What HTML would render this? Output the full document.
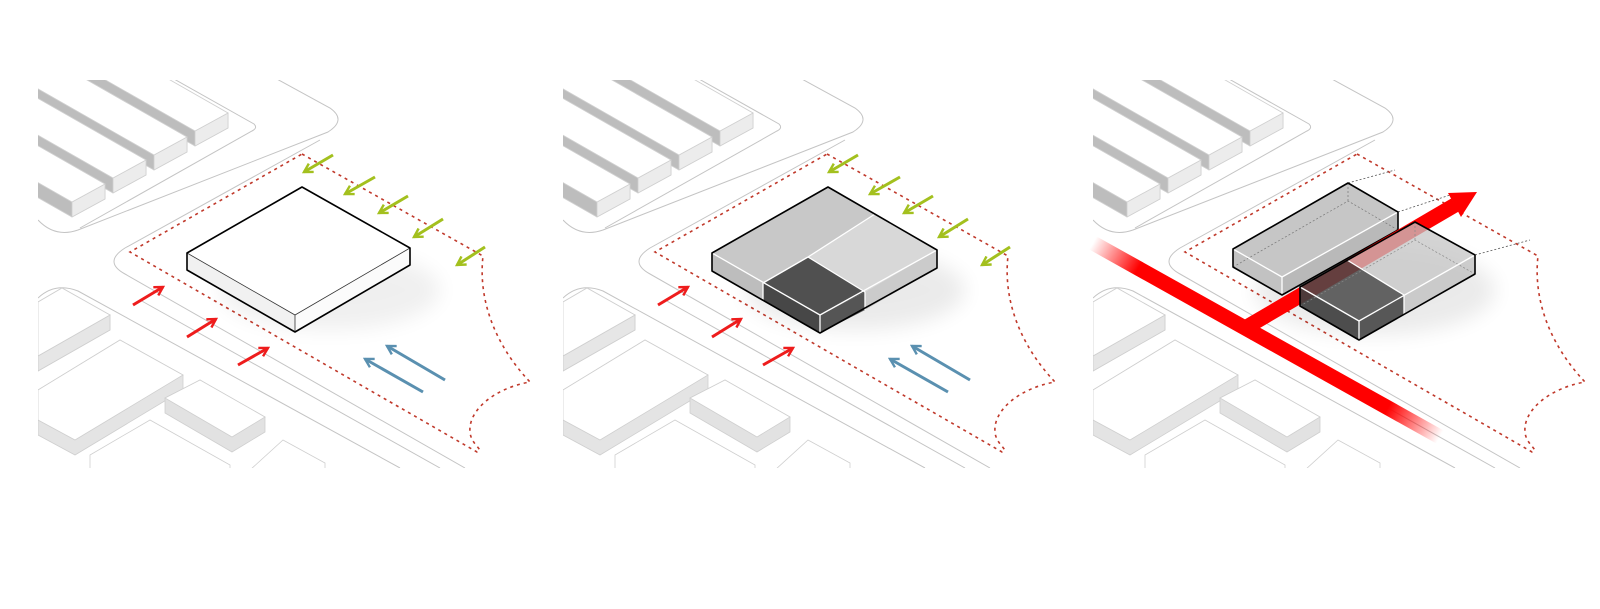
<!DOCTYPE html>
<html><head><meta charset="utf-8"><style>html,body{margin:0;padding:0;background:#fff}svg{display:block}</style></head>
<body>
<svg width="1600" height="609" viewBox="0 0 1600 609" xmlns="http://www.w3.org/2000/svg">
<defs>
<clipPath id="clp"><rect x="38" y="80" width="497" height="388"/></clipPath>
<marker id="mr" viewBox="0 0 10 10" refX="8" refY="5" markerUnits="userSpaceOnUse" markerWidth="12" markerHeight="12" orient="auto"><path d="M1,1 L8,5 L1,9" fill="none" stroke="#ee1c1c" stroke-width="2"/></marker>
<marker id="mg" viewBox="0 0 10 10" refX="8" refY="5" markerUnits="userSpaceOnUse" markerWidth="12" markerHeight="12" orient="auto"><path d="M1,1 L8,5 L1,9" fill="none" stroke="#a3c01e" stroke-width="2"/></marker>
<marker id="mb" viewBox="0 0 10 10" refX="8" refY="5" markerUnits="userSpaceOnUse" markerWidth="12" markerHeight="12" orient="auto"><path d="M1,1 L8,5 L1,9" fill="none" stroke="#5a90b0" stroke-width="2"/></marker>
<linearGradient id="rg" gradientUnits="userSpaceOnUse" x1="38" y1="243" x2="385" y2="437">
<stop offset="0" stop-color="#f00" stop-opacity="0"/><stop offset="0.13" stop-color="#f00"/><stop offset="0.85" stop-color="#f00"/><stop offset="1" stop-color="#f00" stop-opacity="0"/></linearGradient>
<filter id="bl" x="-50%" y="-50%" width="200%" height="200%"><feGaussianBlur stdDeviation="10"/></filter>
<g id="base">
<g clip-path="url(#clp)">
<rect x="38" y="80" width="497" height="388" fill="#fff"/>
<g fill="none" stroke="#c4c4c4" stroke-width="1">
<path d="M275,78 L330,108 Q347,120 328,132 L78,230 Q55,238 38,220"/>
<path d="M174,79 L254,124 Q258,128 252,131 L80,228"/>
<path d="M320,140 L125,248 Q103,262 125,274 L465,468"/>
<path d="M38,298 Q55,282 78,291 L400,468"/>
<path d="M140,300 L440,468"/>
</g>
<g stroke="#d0d0d0" stroke-width="0.8">
<polygon points="-72,-58 228,113 228,128 195,146 -105,-25" fill="#bdbdbd"/>
<polygon points="228,113 228,128 195,146 195,131" fill="#ececec"/>
<polygon points="-72,-58 228,113 195,131 -105,-40" fill="#fff"/>
<polygon points="-113,-34 187,137 187,152 154,170 -146,-1" fill="#bdbdbd"/>
<polygon points="187,137 187,152 154,170 154,155" fill="#ececec"/>
<polygon points="-113,-34 187,137 154,155 -146,-16" fill="#fff"/>
<polygon points="-154,-11 146,160 146,175 113,193 -187,22" fill="#bdbdbd"/>
<polygon points="146,160 146,175 113,193 113,178" fill="#ececec"/>
<polygon points="-154,-11 146,160 113,178 -187,7" fill="#fff"/>
<polygon points="-195,13 105,184 105,199 72,217 -228,46" fill="#bdbdbd"/>
<polygon points="105,184 105,199 72,217 72,202" fill="#ececec"/>
<polygon points="-195,13 105,184 72,202 -228,31" fill="#fff"/>
</g>
<g stroke="#cfcfcf" stroke-width="0.8">
<polygon points="38,302 62,288 110,315 110,330 38,371" fill="#9c9c9c"/>
<polygon points="110,315 110,330 38,371 38,356" fill="#e6e6e6"/>
<polygon points="38,302 62,288 110,315 38,356" fill="#fff"/>
<polygon points="38,420 38,390 120,340 183,375 183,390 75,455 38,435" fill="#e4e4e4"/>
<polygon points="38,420 38,390 120,340 183,375 75,440" fill="#fff"/>
<polygon points="165,398 200,380 265,417 265,432 232,452 165,413" fill="#e2e2e2"/>
<polygon points="165,398 200,380 265,417 232,437" fill="#fff"/>
<polygon points="90,470 90,455 150,420 230,465 230,470" fill="#fff"/>
<polygon points="250,470 283,440 325,463 325,470" fill="#fff"/>
</g>
<path d="M302,154 L483,256 C478,300 495,345 530,382 C495,388 468,410 470,432 C471,445 485,450 477,452 L130,252 Z" fill="none" stroke="#c0392b" stroke-width="1.6" stroke-dasharray="3,4"/>
</g>
</g>
<g id="arrows" stroke-width="3" fill="none">
<g stroke="#ee1c1c" marker-end="url(#mr)">
<line x1="133" y1="305" x2="163" y2="287"/><line x1="187" y1="337" x2="216" y2="319"/><line x1="238" y1="365" x2="268" y2="348"/>
</g>
<g stroke="#a3c01e" marker-end="url(#mg)">
<line x1="333" y1="155" x2="304" y2="172"/><line x1="375" y1="177" x2="345" y2="194"/><line x1="408" y1="196" x2="379" y2="213"/><line x1="443" y1="219" x2="414" y2="237"/><line x1="485" y1="247" x2="457" y2="265"/>
</g>
<g stroke="#5a90b0" marker-end="url(#mb)">
<line x1="445" y1="380" x2="387" y2="346"/><line x1="423" y1="392" x2="365" y2="359"/>
</g>
</g>
</defs>

<use href="#base"/>
<ellipse cx="330" cy="290" rx="110" ry="40" fill="#000" opacity="0.06" filter="url(#bl)"/>
<g stroke-linejoin="round">
<polygon points="187,253 295,315 295,332 187,270" fill="#f1f1f1"/>
<polygon points="295,315 410,248 410,265 295,332" fill="#fbfbfb"/>
<polygon points="302,187 410,248 295,315 187,253" fill="#fff"/>
<polyline points="187,253 295,315 410,248" fill="none" stroke="#333" stroke-width="0.8"/>
<line x1="295" y1="315" x2="295" y2="332" stroke="#333" stroke-width="0.8"/>
<polygon points="302,187 410,248 410,265 295,332 187,270 187,253" fill="none" stroke="#000" stroke-width="1.6"/>
</g>
<use href="#arrows"/>

<use href="#base" x="525"/>
<g transform="translate(525,0)">
<ellipse cx="330" cy="290" rx="110" ry="40" fill="#000" opacity="0.08" filter="url(#bl)"/>
<g stroke-linejoin="round">
<polygon points="187,253 238,283 238,301 187,271" fill="#bdbdbd"/>
<polygon points="238,283 295,315 295,333 238,301" fill="#474747"/>
<polygon points="295,315 340,292 340,310 295,333" fill="#555"/>
<polygon points="340,292 412,250 412,268 340,310" fill="#cbcbcb"/>
<polygon points="303,187 350,214 283,257 238,283 187,253" fill="#c8c8c8"/>
<polygon points="350,214 412,250 340,292 283,257" fill="#d8d8d8"/>
<polygon points="238,283 283,257 340,292 295,315" fill="#505050"/>
<g stroke="#fff" stroke-width="1.3" fill="none">
<polyline points="187,253 295,315 412,250"/><line x1="350" y1="214" x2="283" y2="257"/><line x1="283" y1="257" x2="340" y2="292"/><line x1="238" y1="283" x2="283" y2="257"/>
<line x1="238" y1="283" x2="238" y2="301"/><line x1="295" y1="315" x2="295" y2="333"/><line x1="340" y1="292" x2="340" y2="310"/>
</g>
<polygon points="303,187 412,250 412,268 295,333 187,271 187,253" fill="none" stroke="#000" stroke-width="1.6"/>
</g>
<use href="#arrows"/>
</g>

<use href="#base" x="1055"/>
<g transform="translate(1055,0)">
<ellipse cx="320" cy="290" rx="120" ry="45" fill="#000" opacity="0.08" filter="url(#bl)"/>
<g fill="none" stroke="#555" stroke-width="0.8" stroke-dasharray="2,2">
<line x1="293" y1="183" x2="340" y2="170"/><line x1="343" y1="212" x2="395" y2="195"/><line x1="420" y1="255" x2="475" y2="240"/><line x1="360" y1="222" x2="400" y2="205"/>
</g>
<g stroke-linejoin="round">
<polygon points="178,249 227,277 227,295 178,267" fill="#c2c2c2"/>
<polygon points="227,277 343,212 343,230 227,295" fill="#b9b9b9"/>
<polygon points="293,183 343,212 227,277 178,249" fill="#c6c6c6"/>
<g fill="none" stroke="#777" stroke-width="0.7" stroke-dasharray="2,2"><polyline points="178,267 293,201 343,230"/><line x1="293" y1="183" x2="293" y2="201"/></g>
<polyline points="178,249 227,277 343,212" fill="none" stroke="#fff" stroke-width="1.3"/>
<line x1="227" y1="277" x2="227" y2="295" stroke="#fff" stroke-width="1.3"/>
<polygon points="293,183 343,212 343,230 227,295 178,267 178,249" fill="none" stroke="#000" stroke-width="1.6"/>
</g>
<line x1="38" y1="243" x2="385" y2="437" stroke="url(#rg)" stroke-width="15"/>
<line x1="190" y1="328" x2="400" y2="205" stroke="#f00" stroke-width="15"/>
<path d="M176,321 Q190,326 200,320 L210,338 Q200,334 196,340 Z" fill="#f00"/>
<polygon points="393,193 422,192 406,217" fill="#f00"/>
<g stroke-linejoin="round">
<polygon points="245,287 304,321 304,340 245,306" fill="#3f3f3f" fill-opacity="0.92"/>
<polygon points="304,321 349,295 349,314 304,340" fill="#4a4a4a" fill-opacity="0.92"/>
<polygon points="349,295 420,255 420,274 349,314" fill="#c4c4c4" fill-opacity="0.85"/>
<polygon points="292,260 360,222 420,255 349,295" fill="#c6c6c6" fill-opacity="0.75"/>
<polygon points="245,287 292,260 349,295 304,321" fill="#4a4a4a" fill-opacity="0.85"/>
<g fill="none" stroke="#888" stroke-width="0.7" stroke-dasharray="2,2"><polyline points="245,306 360,240 420,274"/><line x1="360" y1="222" x2="360" y2="240"/></g>
<g stroke="#fff" stroke-width="1.3" fill="none">
<polyline points="245,287 304,321 420,255"/><line x1="292" y1="260" x2="349" y2="295"/>
<line x1="304" y1="321" x2="304" y2="340"/><line x1="349" y1="295" x2="349" y2="314"/>
</g>
<polygon points="360,222 420,255 420,274 304,340 245,306 245,287" fill="none" stroke="#000" stroke-width="1.6"/>
</g>
</g>
</svg>
</body></html>
